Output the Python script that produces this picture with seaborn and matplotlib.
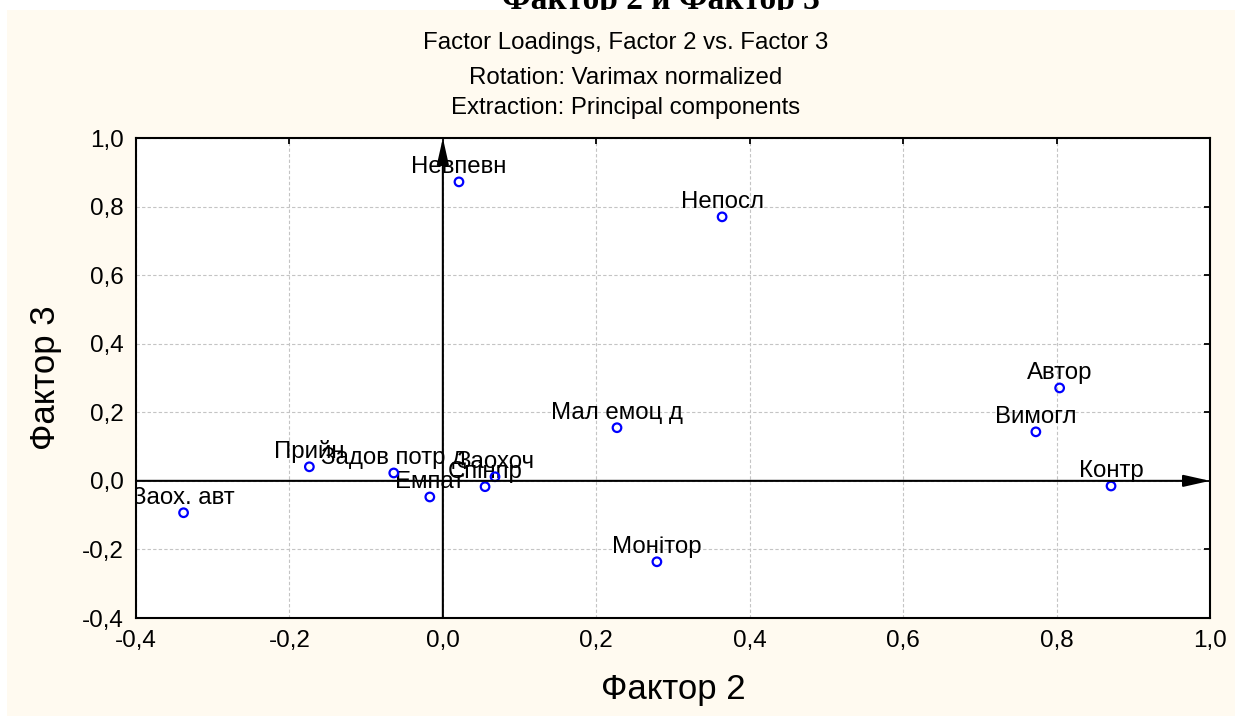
import numpy as np
import pandas as pd
import matplotlib
matplotlib.use('Agg')
import matplotlib.pyplot as plt
from matplotlib.patches import Rectangle
from matplotlib.ticker import FuncFormatter, MultipleLocator
import seaborn as sns

# Навантаження факторів (Фактор 2 по x, Фактор 3 по y)
labels = ['Невпевн', 'Непосл', 'Автор', 'Вимогл', 'Контр', 'Мал емоц д',
          'Монітор', 'Заох. авт', 'Прийн', 'Задов потр д', 'Емпат',
          'Спінпр', 'Заохоч']
factor2 = [0.021, 0.364, 0.804, 0.773, 0.871, 0.227,
           0.279, -0.338, -0.174, -0.064, -0.017,
           0.055, 0.068]
factor3 = [0.872, 0.770, 0.271, 0.143, -0.015, 0.155,
           -0.236, -0.093, 0.041, 0.023, -0.047,
           -0.017, 0.012]

df = pd.DataFrame({'label': labels, 'f2': factor2, 'f3': factor3})

sns.set_style('white')
plt.rcParams['font.family'] = ['Liberation Sans', 'DejaVu Sans']
plt.rcParams['text.color'] = 'black'
plt.rcParams['axes.labelcolor'] = 'black'

fig = plt.figure(figsize=(12.35, 7.16), dpi=100)

# кремова панель і заголовок, частково закритий нею
fig.patches.append(Rectangle((7 / 1235, 0), 1, 1 - 10 / 716, transform=fig.transFigure,
                             facecolor='#FFFAF0', edgecolor='none', zorder=5))
fig.text(661 / 1235, 1 - 9 / 716, 'Фактор 2 и Фактор 3', ha='center', va='baseline',
         fontsize=24, fontweight='bold', family=['Liberation Serif', 'DejaVu Serif'], zorder=1)

fig.text(626 / 1235, 1 - 43 / 716, 'Factor Loadings, Factor 2 vs. Factor 3',
         ha='center', va='center', fontsize=17.3, zorder=6)
fig.text(626 / 1235, 1 - 78 / 716, 'Rotation: Varimax normalized',
         ha='center', va='center', fontsize=17.3, zorder=6)
fig.text(626 / 1235, 1 - 108 / 716, 'Extraction: Principal components',
         ha='center', va='center', fontsize=17.3, zorder=6)

ax = fig.add_axes([136 / 1235, 1 - 618 / 716, (1210 - 136) / 1235, (618 - 138) / 716])
ax.set_zorder(10)
ax.set_facecolor('white')

sns.scatterplot(data=df, x='f2', y='f3', ax=ax, marker='o', s=38,
                facecolors='none', edgecolor='#0000FF', linewidth=1.6, zorder=4)

for lab, x, y in zip(df['label'], df['f2'], df['f3']):
    ax.annotate(lab, (x, y), xytext=(0, 6.5), textcoords='offset points',
                ha='center', va='baseline', fontsize=17.3, color='black',
                clip_on=True, zorder=3)

# осі зі стрілками
arrow = dict(arrowstyle='-|>,head_length=0.8,head_width=0.18', mutation_scale=20,
             lw=1.5, color='black', shrinkA=0, shrinkB=0)
ax.annotate('', xy=(1.0, 0), xytext=(-0.4, 0), arrowprops=arrow, zorder=5)
ax.annotate('', xy=(0, 1.0), xytext=(0, -0.4), arrowprops=arrow, zorder=5)

ax.set_xlim(-0.4, 1.0)
ax.set_ylim(-0.4, 1.0)
ax.xaxis.set_major_locator(MultipleLocator(0.2))
ax.yaxis.set_major_locator(MultipleLocator(0.2))
fmt = FuncFormatter(lambda v, p: f'{v:.1f}'.replace('.', ',').replace('-0,0', '0,0'))
ax.xaxis.set_major_formatter(fmt)
ax.yaxis.set_major_formatter(fmt)

ax.grid(True, color='#c4c4c4', linestyle=(0, (3, 2)), linewidth=0.8)
ax.set_axisbelow(True)
for sp in ax.spines.values():
    sp.set_visible(True)
    sp.set_color('black')
    sp.set_linewidth(1.5)

ax.tick_params(axis='both', which='major', direction='in', length=4, width=1.3,
               top=True, right=True, labelsize=17.5, colors='black')
ax.tick_params(axis='x', pad=9)
ax.tick_params(axis='y', pad=9)

ax.set_xlabel('Фактор 2', fontsize=25, labelpad=15)
ax.set_ylabel('Фактор 3', fontsize=25, labelpad=14)

fig.savefig('out.png', dpi=100)
